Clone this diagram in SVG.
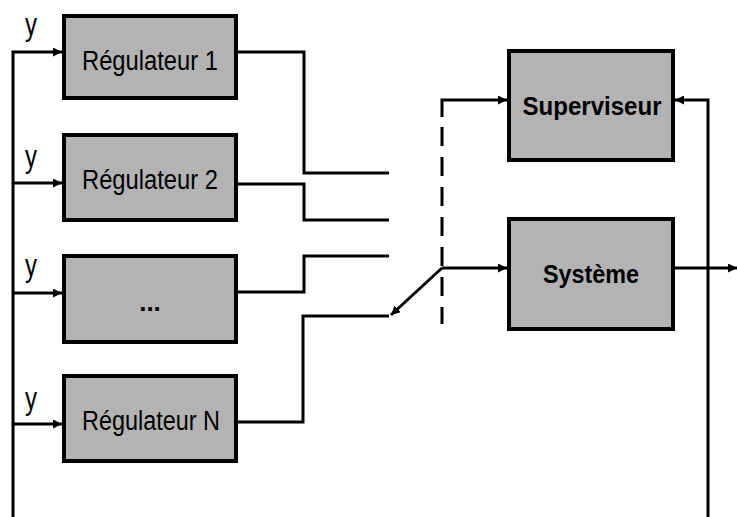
<svg xmlns="http://www.w3.org/2000/svg" width="737" height="517" viewBox="0 0 737 517">
<style>
.box{fill:#b3b3b3;stroke:#000;stroke-width:4}
.ln{fill:none;stroke:#000;stroke-width:3}
.lbl{font-family:"Liberation Sans",Arial,sans-serif;font-size:27px;fill:#000;text-anchor:middle}
.bold{font-weight:bold;font-size:26px}
.y{font-family:"Liberation Sans",Arial,sans-serif;font-size:32px;fill:#000}
</style>
<defs>
<marker id="ah" viewBox="0 0 10 10" refX="10" refY="5" markerWidth="9" markerHeight="9" markerUnits="userSpaceOnUse" orient="auto">
<path d="M0,0 L10,5 L0,10 z" fill="#000"/>
</marker>
</defs>
<g id="connectors">
<path class="ln" d="M13,517 V52 H62" marker-end="url(#ah)"/>
<path class="ln" d="M13,183 H62" marker-end="url(#ah)"/>
<path class="ln" d="M13,293 H62" marker-end="url(#ah)"/>
<path class="ln" d="M13,424 H62" marker-end="url(#ah)"/>
<path class="ln" d="M237,52 H304 V173 H389"/>
<path class="ln" d="M237,184 H304 V220 H389"/>
<path class="ln" d="M237,292 H304 V256 H389"/>
<path class="ln" d="M237,422 H303 V316 H389"/>
<path class="ln" d="M442,268 L391,315" marker-end="url(#ah)"/>
<path class="ln" d="M442,268 H507" marker-end="url(#ah)"/>
<path class="ln" d="M442,117 V100 H507" marker-end="url(#ah)"/>
<path class="ln" d="M442,127 V324" stroke-dasharray="19 11"/>
<path class="ln" d="M708,517 V100 H675" marker-end="url(#ah)"/>
<path class="ln" d="M674,268 H737" marker-end="url(#ah)"/>
</g>
<g id="reg1">
<rect class="box" x="64" y="16" width="172" height="82"/>
<text class="lbl" x="150" y="70" textLength="136" lengthAdjust="spacingAndGlyphs">Régulateur 1</text>
</g>
<g id="reg2">
<rect class="box" x="64" y="135" width="172" height="85"/>
<text class="lbl" x="150" y="189" textLength="136" lengthAdjust="spacingAndGlyphs">Régulateur 2</text>
</g>
<g id="reg3">
<rect class="box" x="64" y="256" width="172" height="86"/>
<text class="lbl bold" x="150" y="311" font-size="24">...</text>
</g>
<g id="regN">
<rect class="box" x="64" y="376" width="172" height="85"/>
<text class="lbl" x="151" y="430" textLength="138" lengthAdjust="spacingAndGlyphs">Régulateur N</text>
</g>
<g id="superviseur">
<rect class="box" x="509" y="51" width="164" height="109"/>
<text class="lbl bold" x="592" y="115" textLength="139" lengthAdjust="spacingAndGlyphs">Superviseur</text>
</g>
<g id="systeme">
<rect class="box" x="509" y="219" width="164" height="110"/>
<text class="lbl bold" x="591" y="283" textLength="96" lengthAdjust="spacingAndGlyphs">Système</text>
</g>
<g id="ylabels">
<text class="y" x="25" y="35" textLength="12" lengthAdjust="spacingAndGlyphs">y</text>
<text class="y" x="25" y="167" textLength="12" lengthAdjust="spacingAndGlyphs">y</text>
<text class="y" x="25" y="276" textLength="12" lengthAdjust="spacingAndGlyphs">y</text>
<text class="y" x="25" y="409" textLength="12" lengthAdjust="spacingAndGlyphs">y</text>
</g>
</svg>
